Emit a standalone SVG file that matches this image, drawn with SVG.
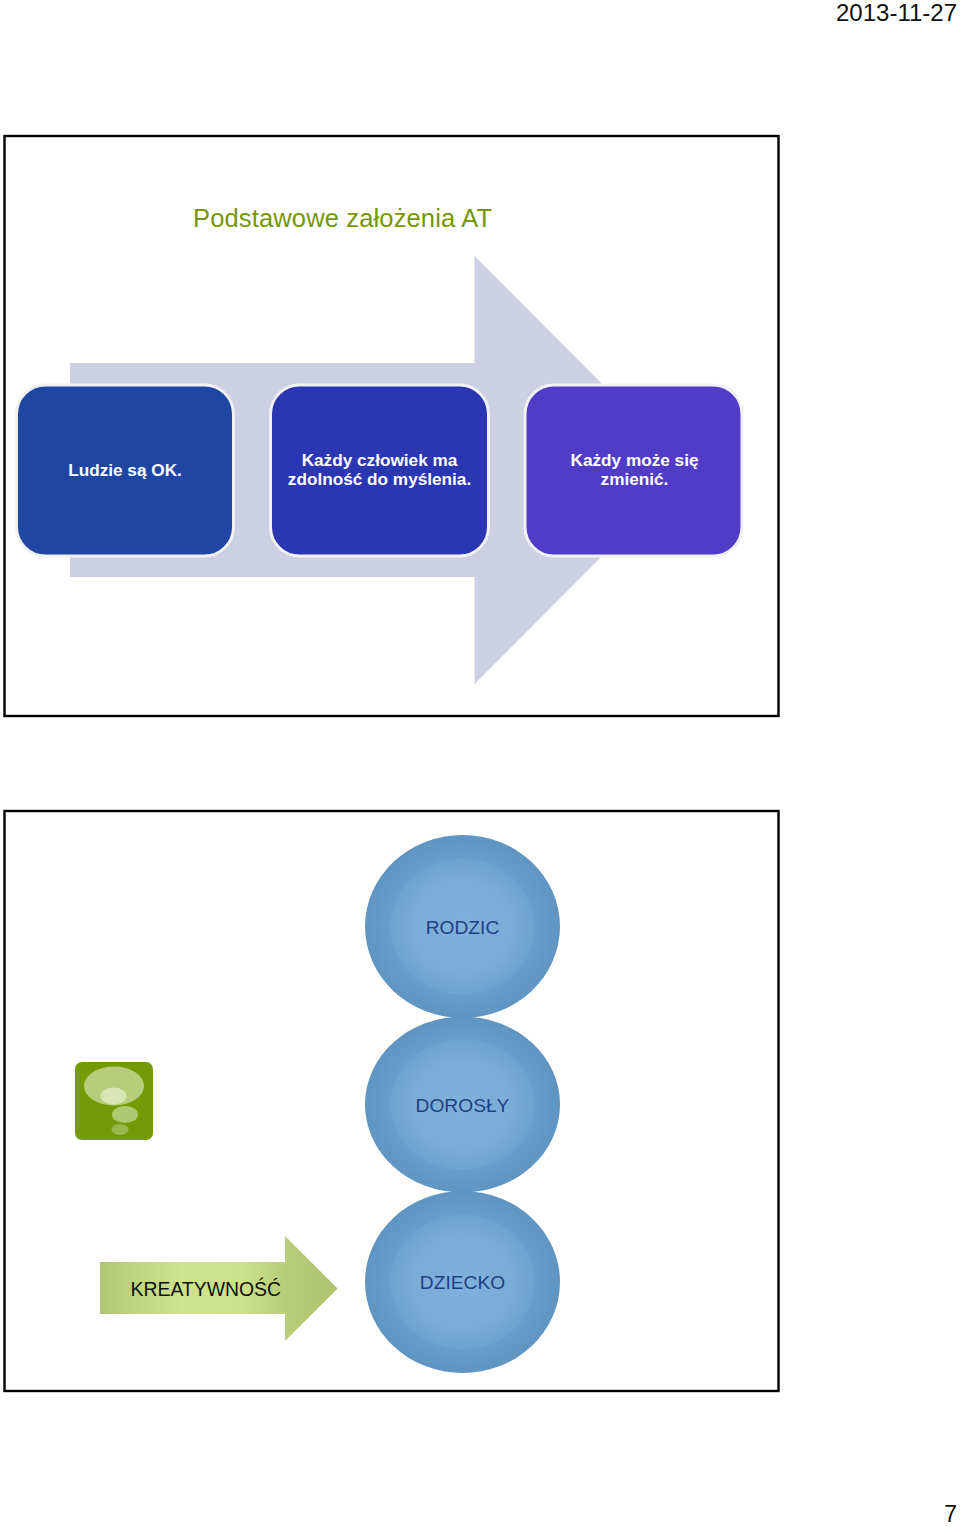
<svg xmlns="http://www.w3.org/2000/svg" width="960" height="1527" viewBox="0 0 960 1527">
<style>
.a{font-family:"Liberation Sans",Arial,sans-serif}
.h{font-family:"Liberation Sans",Arial,sans-serif;font-size:23px;fill:#111;text-anchor:end}
.frame{fill:#fff;stroke:#000;stroke-width:2.4}
.box{stroke:#f1f1f4;stroke-width:3}
.w{fill:#fff;font-size:17.200px;font-weight:bold;text-anchor:middle}
.c{fill:url(#ball)}
.b{fill:#1f3f85;font-size:19.200px;text-anchor:middle}
</style>
<defs>
<radialGradient id="ball" cx="50%" cy="50%" r="50%">
<stop offset="0" stop-color="#80b1dc"/><stop offset=".5" stop-color="#7aacd7"/><stop offset=".73" stop-color="#6fa3cf"/><stop offset=".75" stop-color="#699dc9"/><stop offset="1" stop-color="#6095c1"/>
</radialGradient>
<linearGradient id="gr" x1="100" x2="337" y1="0" y2="0" gradientUnits="userSpaceOnUse">
<stop offset="0" stop-color="#b0c475"/><stop offset=".1" stop-color="#bdd07f"/><stop offset=".35" stop-color="#cfe28c"/><stop offset=".6" stop-color="#cde08a"/><stop offset=".8" stop-color="#b7ca78"/><stop offset="1" stop-color="#aec26f"/>
</linearGradient>
</defs>
<text class="h" x="957" y="21" textLength="121" lengthAdjust="spacingAndGlyphs">2013-11-27</text>
<text class="h" x="957" y="1522">7</text>
<g id="slide1">
<rect class="frame" x="4.500" y="136" width="774" height="580"/>
<text class="a" x="193" y="227" font-size="25.500" fill="#76960a" textLength="299" lengthAdjust="spacing">Podstawowe założenia AT</text>
<path id="big-arrow" d="M70 363H474.500V256L688 470L474.500 684V577H70Z" fill="#cdd0e3"/>
<g id="n1"><rect class="box" x="16.500" y="385" width="217" height="171" rx="29" fill="#1f46a2"/><text class="a w" x="125" y="475.500">Ludzie są OK.</text></g>
<g id="n2"><rect class="box" x="270.500" y="385" width="218" height="171" rx="29" fill="#2b36b3"/><text class="a w" x="379.500" y="466">Każdy człowiek ma</text><text class="a w" x="379.500" y="484.500">zdolność do myślenia.</text></g>
<g id="n3"><rect class="box" x="525" y="385" width="217" height="171" rx="29" fill="#513cc8"/><text class="a w" x="634.500" y="466">Każdy może się</text><text class="a w" x="634.500" y="484.500">zmienić.</text></g>
</g>
<g id="slide2">
<rect class="frame" x="4.500" y="811" width="774" height="580"/>
<g id="rodzic"><ellipse class="c" cx="462.500" cy="926.500" rx="97.500" ry="91.500"/><text class="a b" x="462.500" y="934">RODZIC</text></g>
<g id="dorosly"><ellipse class="c" cx="462.500" cy="1104.500" rx="97.500" ry="88"/><text class="a b" x="462.500" y="1112">DOROSŁY</text></g>
<g id="dziecko"><ellipse class="c" cx="462.500" cy="1282" rx="97.500" ry="91"/><text class="a b" x="462.500" y="1289">DZIECKO</text></g>
<g id="bubble">
<rect x="75" y="1062" width="78" height="78" rx="7" fill="#749b05"/>
<ellipse cx="114" cy="1086" rx="30" ry="19.500" fill="#b7cd7c"/>
<ellipse cx="113.500" cy="1096" rx="13" ry="8.500" fill="#d9e5b5"/>
<ellipse cx="125" cy="1114.500" rx="13" ry="8.500" fill="#b0c870"/>
<ellipse cx="120" cy="1129.500" rx="8.500" ry="5.500" fill="#9ab64f"/>
</g>
<g id="kreatywnosc">
<path d="M100 1262H285V1236L337.500 1288.500L285 1341V1314H100Z" fill="url(#gr)"/>
<text class="a" x="130.500" y="1296" font-size="20.500" fill="#111" textLength="150.500" lengthAdjust="spacingAndGlyphs">KREATYWNOŚĆ</text>
</g>
</g>
<g id="connectors"/>
</svg>
